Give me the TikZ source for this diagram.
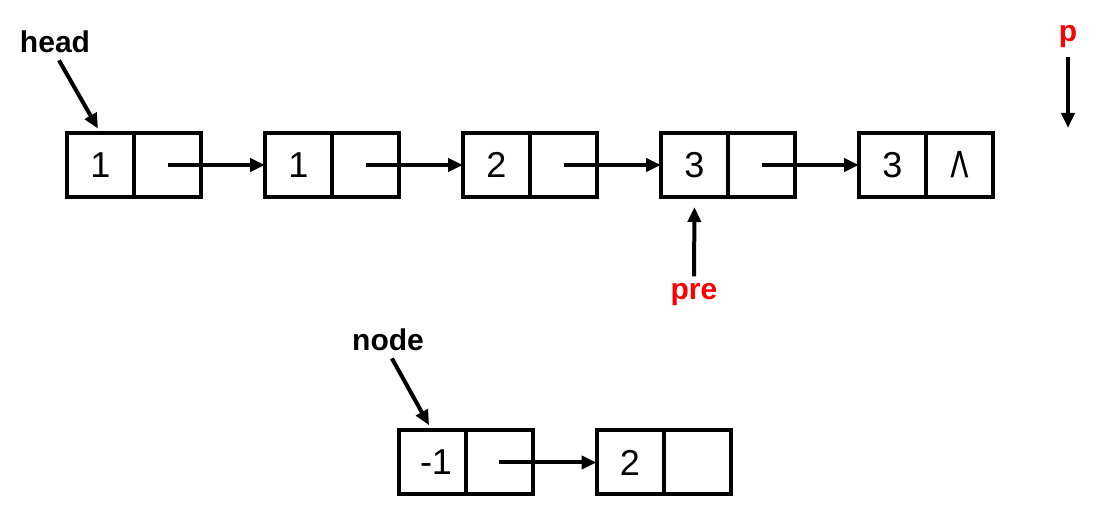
\documentclass[tikz,border=0pt]{standalone}
\usepackage{fontspec}
\setmainfont{Liberation Sans}
\usetikzlibrary{positioning,arrows.meta}

\begin{document}
\begin{tikzpicture}[x=0.5pt,y=-0.5pt]
\tikzset{
  cell/.style={draw,line width=2pt,minimum width=33.5pt,minimum height=32pt,
    outer sep=0pt,inner sep=0pt,font=\fontsize{18}{18}\selectfont},
  label/.style={inner sep=0pt,font=\bfseries\fontsize{15}{15}\selectfont},
  link/.style={line width=2pt,-{Triangle[length=7.5pt,width=6.5pt]}}
}
\useasboundingbox (0,0) rectangle (1098,507);

% main list
\foreach \v [count=\k] in {1,1,2,3} {
  \node[cell] (v\k) at ({100.5+198*(\k-1)},165) {\v};
  \node[cell,right=0pt of v\k] (p\k) {};
}
\node[cell] (v5) at (892.5,165) {3};
\node[cell,right=0pt of v5] (p5) {/\kern-0.06em\textbackslash};

\foreach \k [evaluate=\k as \n using int(\k+1)] in {1,...,4}
  \draw[link] (p\k.center) -- (v\n.west);

% new node
\node[cell] (v6) at (432,462.5) {\kern4pt-1};
\node[cell,right=0pt of v6] (p6) {};
\node[cell] (v7) at (630,462.5) {2};
\node[cell,right=0pt of v7] (p7) {};
\draw[link] (p6.center) -- (v7.west);

% labels
\node[label] (head) at (55,42) {head};
\node[label,red] (pnode) at (1068,37) {p};
\node[label,red] (pre) at (694,295) {pre};
\node[label] (newnode) at (388,340) {node};
\coordinate (pend) at (1068,133);

\draw[link,shorten <=4pt,shorten >=2.5pt] (head.south) -- (v1.north);
\draw[link,shorten <=4pt,shorten >=2.5pt] (pnode.south) -- (pend);
\draw[link,shorten <=3.5pt,shorten >=5pt] (pre.north) -- (v4.south);
\draw[link,shorten <=4pt,shorten >=3pt] (newnode.south) -- (v6.north);
\end{tikzpicture}
\end{document}
